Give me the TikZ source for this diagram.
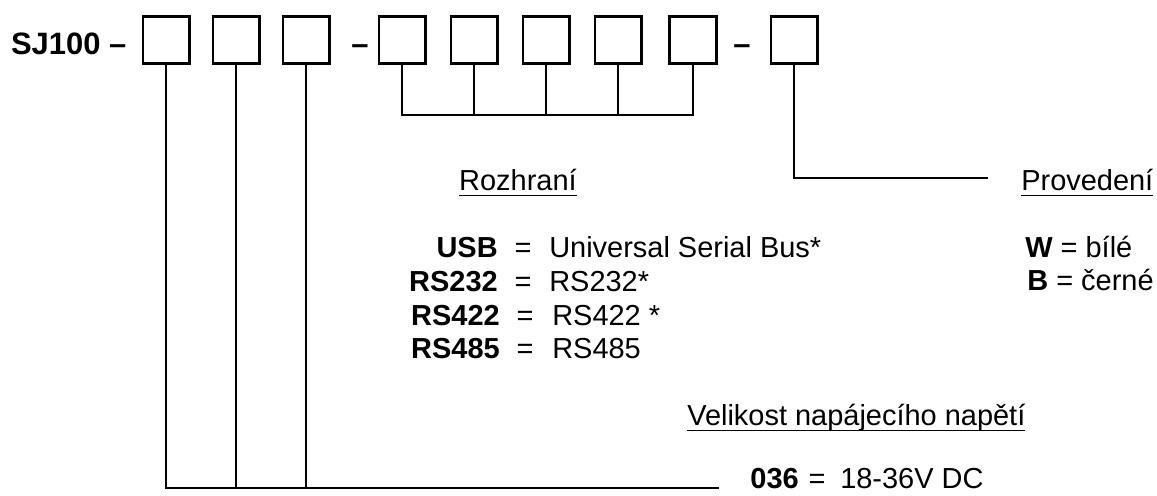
\documentclass[tikz,border=0pt]{standalone}
\usepackage{fontspec}
\setmainfont{Liberation Sans}
\newcommand{\ultext}[1]{\setbox0=\hbox{#1}\rlap{\rule[-4.5pt]{\wd0}{1.3pt}}\box0}
\tikzset{
  box/.style={draw, line width=2pt, minimum size=1.17cm, inner sep=0pt},
  conn/.style={line width=1.4pt},
  txt/.style={inner sep=0pt, font=\fontsize{20.6}{24}\selectfont},
  big/.style={inner sep=0pt, font=\fontsize{22}{26}\selectfont\bfseries},
}
\begin{document}
\begin{tikzpicture}
        \useasboundingbox (0,0) rectangle (28.925,12.375);
        % type code
        \node[big, anchor=base west] (code) at (0.27,11.0) {SJ100 –};
        \node[box] (b1) at (4.16,11.375) {};
        \node[box] (b2) at (5.91,11.375) {};
        \node[box] (b3) at (7.66,11.375) {};
        \node[big, anchor=base] (d2) at (9.0,11.0) {–};
        \node[box] (b4) at (10.06,11.375) {};
        \node[box] (b5) at (11.86,11.375) {};
        \node[box] (b6) at (13.66,11.375) {};
        \node[box] (b7) at (15.46,11.375) {};
        \node[box] (b8) at (17.33,11.375) {};
        \node[big, anchor=base] (d3) at (18.55,11.0) {–};
        \node[box] (b9) at (19.86,11.375) {};

        % interface
        \coordinate (brk) at (0,9.5);
        \draw[conn] (b4.south) -- (b4.south |- brk) -- (b8.south |- brk) -- (b8.south);
        \foreach \i in {5,6,7}
            \draw[conn] (b\i.south) -- (b\i.south |- brk);
        \node[txt, anchor=base east] (rozhrani) at (14.425,7.625) {\ultext{Rozhraní}};
        \node[txt, anchor=base east] (usb)   at (12.45,5.95)  {\textbf{USB}};
        \node[txt, anchor=base]      (eq1)   at (13.075,5.95) {=};
        \node[txt, anchor=base west] (usbd)  at (13.725,5.95) {Universal Serial Bus*};
        \node[txt, anchor=base east] (rs2)   at (12.45,5.1)   {\textbf{RS232}};
        \node[txt, anchor=base]      (eq2)   at (13.075,5.1)  {=};
        \node[txt, anchor=base west] (rs2d)  at (13.725,5.1)  {RS232*};
        \node[txt, anchor=base east] (rs4)   at (12.5,4.25)   {\textbf{RS422}};
        \node[txt, anchor=base]      (eq3)   at (13.125,4.25) {=};
        \node[txt, anchor=base west] (rs4d)  at (13.8,4.25)   {RS422 *};
        \node[txt, anchor=base east] (rs8)   at (12.5,3.425)  {\textbf{RS485}};
        \node[txt, anchor=base]      (eq4)   at (13.125,3.425) {=};
        \node[txt, anchor=base west] (rs8d)  at (13.8,3.425)  {RS485};

        % colour
        \coordinate (provend) at (24.7,7.925);
        \draw[conn] (b9.south) |- (provend);
        \node[txt, anchor=base west] (provedeni) at (25.525,7.625) {\ultext{Provedení}};
        \node[txt, anchor=base west] (white) at (25.625,5.95)  {\textbf{W} = bílé};
        \node[txt, anchor=base west] (black) at (25.675,5.125) {\textbf{B} = černé};

        % supply voltage
        \coordinate (pwrend) at (17.975,0.175);
        \draw[conn] (b1.south) |- (pwrend);
        \draw[conn] (b2.south) -- (b2.south |- pwrend);
        \draw[conn] (b3.south) -- (b3.south |- pwrend);
        \node[txt, anchor=base west] (velikost) at (17.175,1.75) {\ultext{Velikost napájecího napětí}};
        \node[txt, anchor=base east] (v036)  at (19.975,0.175) {\textbf{036}};
        \node[txt, anchor=base]      (eq5)   at (20.425,0.175) {=};
        \node[txt, anchor=base west] (v036d) at (21.0,0.175)   {18-36V DC};
    \end{tikzpicture}
\end{document}
